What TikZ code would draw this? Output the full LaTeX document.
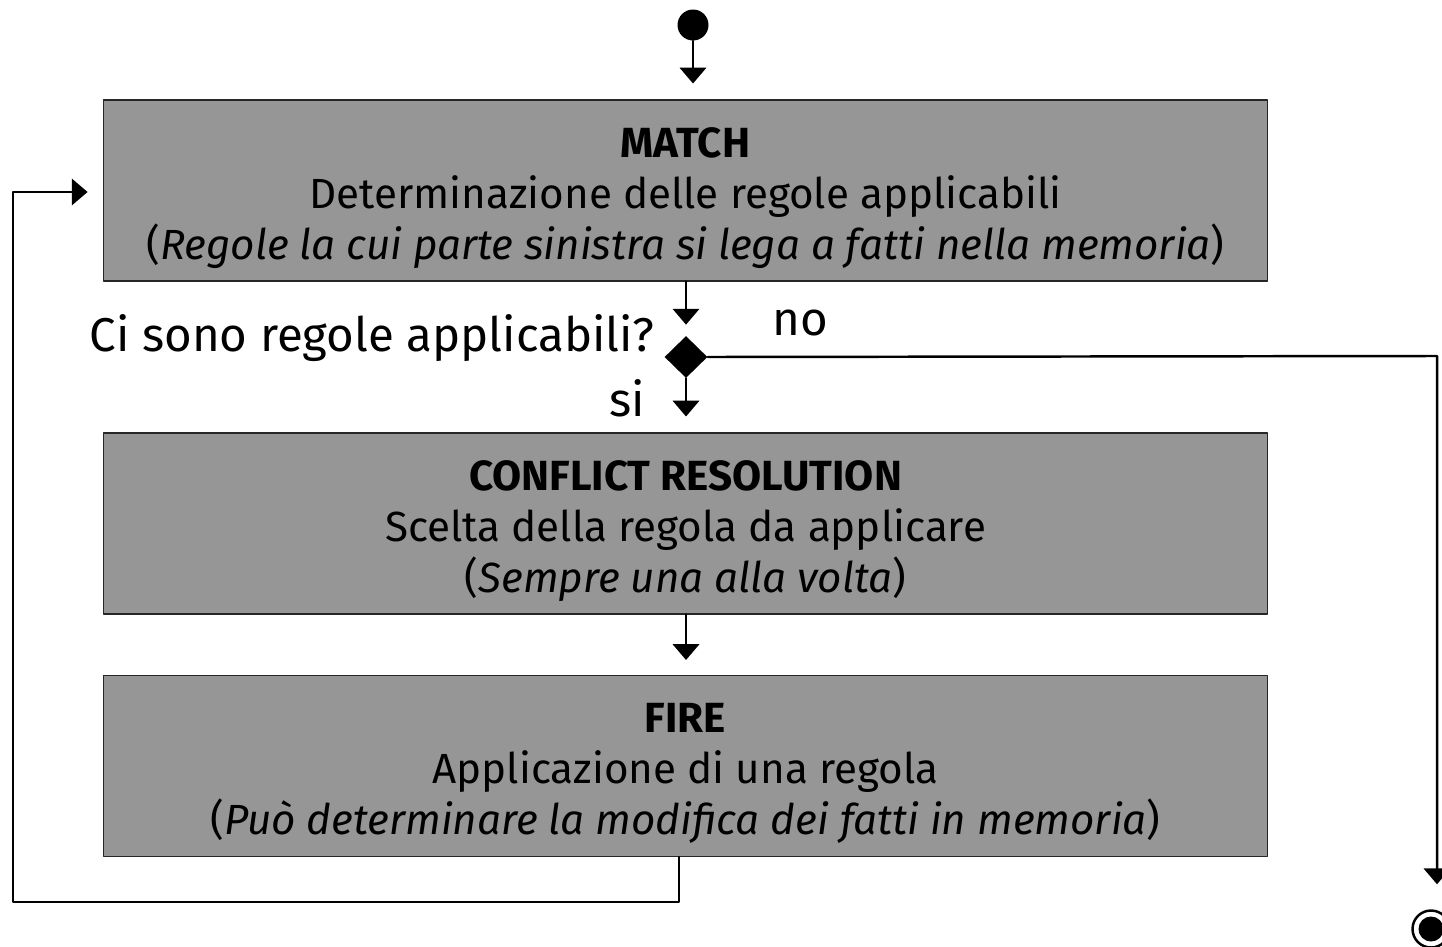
\documentclass[tikz,border=0pt]{standalone}
\usepackage{fontspec}
\setmainfont{Fira Sans}
\usetikzlibrary{arrows.meta,shapes.geometric}
\newcommand\headstrut{\rule{0pt}{25.5pt}}
\begin{document}
\begin{tikzpicture}[line cap=round,line join=round,>={Triangle[width=15pt,length=9pt]},x=0.02cm,y=-0.02cm,
  phase/.style={draw=black!85,line width=0.6pt,fill=black!41,minimum width=23.3cm,minimum height=3.62cm,
    inner sep=0pt,align=center,font=\fontsize{24}{29}\selectfont},
  flow/.style={line width=1.4pt},
  lbl/.style={font=\fontsize{27}{30}\selectfont,inner sep=0pt}]
\useasboundingbox (0,0) rectangle (1442,946);
\node[circle,fill=black,minimum size=0.62cm,inner sep=0pt] (start) at (693,25) {};
\node[phase] (match) at (685.5,190.5) {\headstrut\textbf{MATCH}\\Determinazione delle regole applicabili\\(\textit{Regole la cui parte sinistra si lega a fatti nella memoria})};
\node[diamond,fill=black,minimum width=0.86cm,minimum height=0.84cm,inner sep=0pt] (dec) at (686,357) {};
\node[phase] (conflict) at (685.5,523.5) {\headstrut\textbf{CONFLICT RESOLUTION}\\Scelta della regola da applicare\\(\textit{Sempre una alla volta})};
\node[phase] (fire) at (685.5,766) {\headstrut\textbf{FIRE}\\Applicazione di una regola\\(\textit{Può determinare la modifica dei fatti in memoria})};
\node[circle,draw=black,line width=1.4pt,minimum size=0.74cm,inner sep=0pt] (end) at (1431,929) {};
\node[circle,fill=black,minimum size=0.5cm,inner sep=0pt] at (end) {};
\node[lbl,anchor=east] (ask) at (655,338) {Ci sono regole applicabili?};
\node[lbl] (no) at (800,323) {no};
\node[lbl] (si) at (627,398) {si};
\coordinate (noc) at (1437,356);
\coordinate (fb) at (679,902);
\coordinate (lb) at (13,902);
\coordinate (lt) at (13,192);
\draw[flow,->,shorten >=0.32cm] (start) -- (start |- match.north);
\draw[flow,->,shorten >=0.22cm] (dec |- match.south) -- (dec.north);
\draw[flow,->,shorten >=0.32cm] (dec.south) -- (dec |- conflict.north);
\draw[flow,->,shorten >=0.3cm] (dec |- conflict.south) -- (dec |- fire.north);
\draw[flow,->,shorten >=0.5cm] (dec.east) -- (noc) -- (noc |- end.north);
\draw[flow,->,shorten >=0.3cm] (fb |- fire.south) -- (fb) -- (lb) -- (lt) -- (lt -| match.west);
\end{tikzpicture}
\end{document}
